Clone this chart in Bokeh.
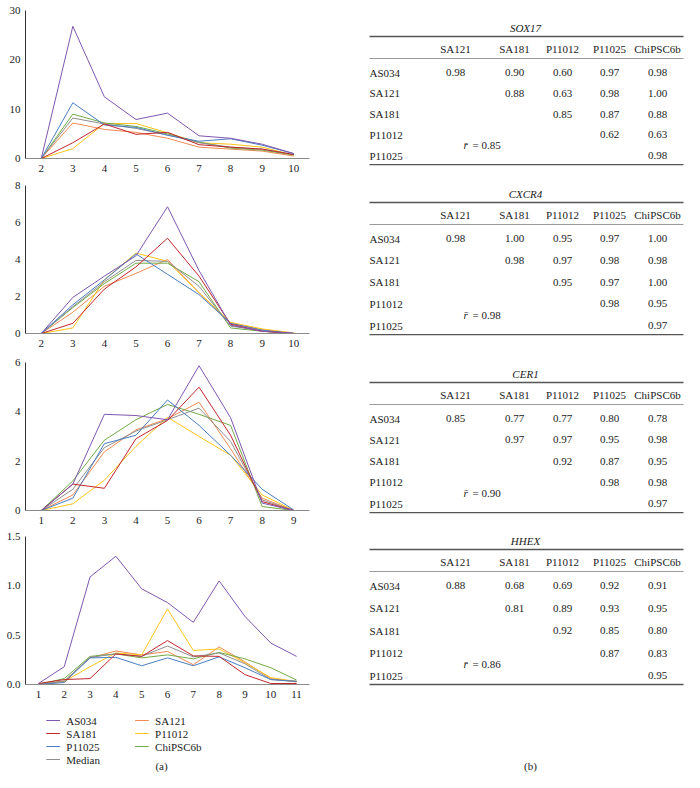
from bokeh.plotting import figure
from bokeh.layouts import column, row
from bokeh.models import Range1d, FixedTicker, PrintfTickFormatter, ColumnDataSource
from bokeh.core.properties import value
from bokeh.embed import file_html
from bokeh.resources import INLINE

# ---------------- data ----------------
series_names = ["AS034", "SA181", "P11025", "Median", "SA121", "P11012", "ChiPSC6b"]
series_colors = ["#7E57B0", "#C0272D", "#4A7EC0", "#8E8E8E", "#F08A55", "#FFC31A", "#72AA48"]

sox17_x = [2, 3, 4, 5, 6, 7, 8, 9, 10]
sox17_AS034 = [0, 26.8, 12.5, 7.9, 9.2, 4.6, 4.1, 2.9, 1.0]
sox17_SA181 = [0, 3.2, 7.0, 4.9, 5.3, 2.8, 2.3, 1.9, 0.8]
sox17_P11025 = [0, 11.3, 6.8, 6.3, 4.7, 3.5, 4.0, 2.7, 1.0]
sox17_Median = [0, 8.2, 7.0, 6.1, 4.8, 3.2, 2.3, 1.9, 0.8]
sox17_SA121 = [0, 7.2, 5.9, 5.3, 4.1, 2.3, 1.9, 1.5, 0.5]
sox17_P11012 = [0, 2.0, 7.1, 7.1, 5.2, 3.2, 2.9, 2.3, 0.7]
sox17_ChiPSC6b = [0, 9.0, 7.2, 6.5, 5.0, 3.3, 2.1, 1.7, 0.7]

cxcr4_x = [2, 3, 4, 5, 6, 7, 8, 9, 10]
cxcr4_AS034 = [0, 1.95, 3.1, 4.2, 6.85, 3.4, 0.45, 0.12, 0.02]
cxcr4_SA181 = [0, 0.55, 2.4, 3.6, 5.15, 3.1, 0.5, 0.12, 0.0]
cxcr4_P11025 = [0, 1.55, 2.9, 4.3, 3.2, 2.1, 0.55, 0.18, 0.0]
cxcr4_Median = [0, 1.45, 2.8, 3.95, 3.9, 2.55, 0.4, 0.15, 0.0]
cxcr4_SA121 = [0, 1.15, 2.55, 3.25, 4.0, 2.2, 0.55, 0.2, 0.02]
cxcr4_P11012 = [0, 0.3, 2.9, 4.35, 3.9, 2.2, 0.6, 0.25, 0.03]
cxcr4_ChiPSC6b = [0, 1.4, 2.7, 3.8, 3.8, 2.8, 0.3, 0.12, 0.0]

cer1_x = [1, 2, 3, 4, 5, 6, 7, 8, 9]
cer1_AS034 = [0, 1.07, 3.9, 3.85, 3.68, 5.87, 3.76, 0.3, 0]
cer1_SA181 = [0, 1.07, 0.9, 2.91, 3.65, 5.0, 3.05, 0.36, 0]
cer1_P11025 = [0, 0.5, 2.71, 3.05, 4.48, 3.45, 2.24, 0.86, 0.02]
cer1_Median = [0, 0.86, 2.55, 3.22, 3.68, 4.15, 2.8, 0.43, 0]
cer1_SA121 = [0, 0.63, 2.38, 3.27, 3.72, 4.39, 2.5, 0.5, 0]
cer1_P11012 = [0, 0.27, 1.23, 2.6, 3.78, 3.0, 2.24, 0.63, 0.01]
cer1_ChiPSC6b = [0, 1.2, 2.85, 3.68, 4.3, 3.9, 3.45, 0.16, 0]

hhex_x = [1, 2, 3, 4, 5, 6, 7, 8, 9, 10, 11]
hhex_AS034 = [0.01, 0.18, 1.09, 1.30, 0.97, 0.83, 0.63, 1.05, 0.69, 0.42, 0.285]
hhex_SA181 = [0.01, 0.05, 0.06, 0.31, 0.285, 0.445, 0.29, 0.285, 0.10, 0.01, 0.01]
hhex_P11025 = [0.0, 0.02, 0.27, 0.275, 0.19, 0.27, 0.19, 0.28, 0.17, 0.05, 0.03]
hhex_Median = [0.0, 0.035, 0.275, 0.31, 0.285, 0.39, 0.28, 0.32, 0.21, 0.05, 0.035]
hhex_SA121 = [0.0, 0.035, 0.27, 0.34, 0.30, 0.335, 0.20, 0.38, 0.23, 0.06, 0.025]
hhex_P11012 = [0.0, 0.03, 0.18, 0.32, 0.30, 0.765, 0.345, 0.36, 0.22, 0.07, 0.03]
hhex_ChiPSC6b = [0.0, 0.06, 0.285, 0.31, 0.27, 0.30, 0.26, 0.325, 0.26, 0.17, 0.045]

sox17_yticks = [0, 10, 20, 30]
cxcr4_yticks = [0, 2, 4, 6, 8]
cer1_yticks = [0, 2, 4, 6]
hhex_yticks = [0.0, 0.5, 1.0, 1.5]

genes = ["SOX17", "CXCR4", "CER1", "HHEX"]
table_cols = ["SA121", "SA181", "P11012", "P11025", "ChiPSC6b"]
table_rows = ["AS034", "SA121", "SA181", "P11012", "P11025"]
corr_SOX17 = [[0.98, 0.90, 0.60, 0.97, 0.98], [0.88, 0.63, 0.98, 1.00], [0.85, 0.87, 0.88], [0.62, 0.63], [0.98]]
corr_CXCR4 = [[0.98, 1.00, 0.95, 0.97, 1.00], [0.98, 0.97, 0.98, 0.98], [0.95, 0.97, 1.00], [0.98, 0.95], [0.97]]
corr_CER1 = [[0.85, 0.77, 0.77, 0.80, 0.78], [0.97, 0.97, 0.95, 0.98], [0.92, 0.87, 0.95], [0.98, 0.98], [0.97]]
corr_HHEX = [[0.88, 0.68, 0.69, 0.92, 0.91], [0.81, 0.89, 0.93, 0.95], [0.92, 0.85, 0.80], [0.87, 0.83], [0.95]]
r_mean = [0.85, 0.98, 0.90, 0.86]

FONT = "Liberation Serif"
TXT = "#222222"
LEFT_W = 355
TOTAL_W, TOTAL_H = 684, 772

panels = [
    (sox17_x, [sox17_AS034, sox17_SA181, sox17_P11025, sox17_Median, sox17_SA121, sox17_P11012, sox17_ChiPSC6b], sox17_yticks, "%d"),
    (cxcr4_x, [cxcr4_AS034, cxcr4_SA181, cxcr4_P11025, cxcr4_Median, cxcr4_SA121, cxcr4_P11012, cxcr4_ChiPSC6b], cxcr4_yticks, "%d"),
    (cer1_x, [cer1_AS034, cer1_SA181, cer1_P11025, cer1_Median, cer1_SA121, cer1_P11012, cer1_ChiPSC6b], cer1_yticks, "%d"),
    (hhex_x, [hhex_AS034, hhex_SA181, hhex_P11025, hhex_Median, hhex_SA121, hhex_P11012, hhex_ChiPSC6b], hhex_yticks, "%.1f"),
]
# layout: (height, border_top, border_bottom, frame_width)
panel_layout = [(178, 10, 20, 290), (177, 7, 22, 284), (174, 7, 19, 327), (181, 7, 26, 306)]
draw_order = ["SA121", "P11012", "ChiPSC6b", "Median", "P11025", "SA181", "AS034"]
AX_LEFT = 25

figs = []
for (xs, ys, yt, fmt), (h, bt, bb, fw) in zip(panels, panel_layout):
    p = figure(width=LEFT_W, height=h, output_backend="svg", toolbar_location=None,
               x_range=Range1d(xs[0] - 0.5, xs[-1] + 0.5), y_range=Range1d(yt[0], yt[-1]),
               min_border_left=AX_LEFT, min_border_right=LEFT_W - AX_LEFT - fw,
               min_border_top=bt, min_border_bottom=bb)
    p.grid.visible = False
    p.outline_line_color = None
    for ax in (p.xaxis[0], p.yaxis[0]):
        ax.major_tick_line_color = None
        ax.minor_tick_line_color = None
        ax.major_tick_out = 0
        ax.major_tick_in = 0
        ax.minor_tick_out = 0
        ax.major_label_text_font = FONT
        ax.major_label_text_font_size = "11px"
        ax.major_label_text_color = TXT
    p.xaxis.ticker = FixedTicker(ticks=xs)
    p.xaxis.axis_line_color = "#8a8a8a"
    p.xaxis.major_label_standoff = 6
    p.yaxis.ticker = FixedTicker(ticks=yt)
    p.yaxis.formatter = PrintfTickFormatter(format=fmt)
    p.yaxis.axis_line_color = "#333333"
    p.yaxis.major_label_standoff = 5
    for name in draw_order:
        i = series_names.index(name)
        p.line(xs, ys[i], line_color=series_colors[i], line_width=1)
    figs.append(p)

used_h = sum(pl[0] for pl in panel_layout)
LEG_H = TOTAL_H - used_h

# legend figure (coordinates = reference pixels)
leg = figure(width=LEFT_W, height=LEG_H, output_backend="svg", toolbar_location=None,
             x_range=Range1d(0, LEFT_W), y_range=Range1d(TOTAL_H, used_h),
             x_axis_type=None, y_axis_type=None,
             min_border=0, min_border_left=0, min_border_right=0, min_border_top=0, min_border_bottom=0)
leg.grid.visible = False
leg.outline_line_color = None
leg_col_x = [26, 137]
leg_row0, leg_step, leg_len, leg_gap = 720, 13, 17, 8
tx_, ty_, tt_ = [], [], []
for k, (name, c) in enumerate(zip(series_names, series_colors)):
    col = 0 if k < 4 else 1
    r = k if k < 4 else k - 4
    yy = leg_row0 + r * leg_step
    x0 = leg_col_x[col]
    leg.line(x=[x0, x0 + leg_len], y=[yy, yy], line_color=c, line_width=1)
    tx_.append(x0 + leg_len + leg_gap); ty_.append(yy); tt_.append(name)
leg.text(x=tx_, y=ty_, text=tt_, text_align="left", text_baseline="middle",
         text_font=value(FONT), text_font_size=value("11px"), text_color=TXT)
leg.text(x=[170], y=[765], text=["(a)"], text_align="center", text_baseline="middle",
         text_font=value(FONT), text_font_size=value("11px"), text_color=TXT)

left = column(*figs, leg, spacing=0)

# right: correlation tables (coordinates = reference pixels)
RW = TOTAL_W - LEFT_W
tp = figure(width=RW, height=TOTAL_H, output_backend="svg", toolbar_location=None,
            x_range=Range1d(LEFT_W, TOTAL_W), y_range=Range1d(TOTAL_H, 0),
            x_axis_type=None, y_axis_type=None,
            min_border=0, min_border_left=0, min_border_right=0, min_border_top=0, min_border_bottom=0)
tp.grid.visible = False
tp.outline_line_color = None

corr_all = [corr_SOX17, corr_CXCR4, corr_CER1, corr_HHEX]
title_y = [27, 193, 373, 540]
row_step = [20.8, 21.8, 21.3, 22.5]
col_x = [455, 514, 562, 609, 657]
lab_x = 369
line_x0, line_x1 = 369, 683

tx, ty, tt, talign = [], [], [], []
titles_x, titles_y, titles_t = [], [], []
seg_x0, seg_y0, seg_x1, seg_y1, seg_c, seg_w = [], [], [], [], [], []
rb_x, rb_y, rr_x, rr_y, rr_t = [], [], [], [], []
for g, gene in enumerate(genes):
    base = title_y[g]
    st = row_step[g]
    titles_x.append(525); titles_y.append(base); titles_t.append(gene)
    top = base + 9
    head = base + 21
    hline = base + 31
    r0 = base + 45
    bottom = r0 + 4 * st + 9
    for yy, cc, ww in ((top, "#555555", 1.3), (hline, "#9a9a9a", 1), (bottom, "#555555", 1.3)):
        seg_x0.append(line_x0); seg_x1.append(line_x1); seg_y0.append(yy); seg_y1.append(yy)
        seg_c.append(cc); seg_w.append(ww)
    for j, c in enumerate(table_cols):
        tx.append(col_x[j]); ty.append(head); tt.append(c); talign.append("center")
    for i, rname in enumerate(table_rows):
        yy = r0 + i * st
        tx.append(lab_x); ty.append(yy); tt.append(rname); talign.append("left")
        for k, v in enumerate(corr_all[g][i]):
            j = i + k
            tx.append(col_x[j]); ty.append(yy); tt.append("%.2f" % v); talign.append("center")
    ymid = r0 + 3.5 * st
    rb_x.append(463); rb_y.append(ymid)
    rr_x.append(472); rr_y.append(ymid); rr_t.append("= %.2f" % r_mean[g])

tp.segment(x0=seg_x0, y0=seg_y0, x1=seg_x1, y1=seg_y1, line_color=seg_c, line_width=seg_w)
src = ColumnDataSource(dict(x=tx, y=ty, t=tt, a=talign))
tp.text(x="x", y="y", text="t", text_align="a", source=src, text_baseline="middle",
        text_font=value(FONT), text_font_size=value("11px"), text_color=TXT)
tp.text(x=titles_x, y=titles_y, text=titles_t, text_align="center", text_baseline="middle",
        text_font=value(FONT), text_font_size=value("11px"), text_font_style="italic",
        text_color=TXT)
tp.text(x=rb_x, y=rb_y, text=["r\u0304"] * 4, text_align="left", text_baseline="middle",
        text_font=value(FONT), text_font_size=value("11px"), text_font_style="italic",
        text_color=TXT)
tp.text(x=rr_x, y=rr_y, text=rr_t, text_align="left", text_baseline="middle",
        text_font=value(FONT), text_font_size=value("11px"), text_color=TXT)
tp.text(x=[530], y=[765], text=["(b)"], text_align="center", text_baseline="middle",
        text_font=value(FONT), text_font_size=value("11px"), text_color=TXT)

layout = row(left, tp, spacing=0)

open("out.html", "w").write(file_html(layout, INLINE))
